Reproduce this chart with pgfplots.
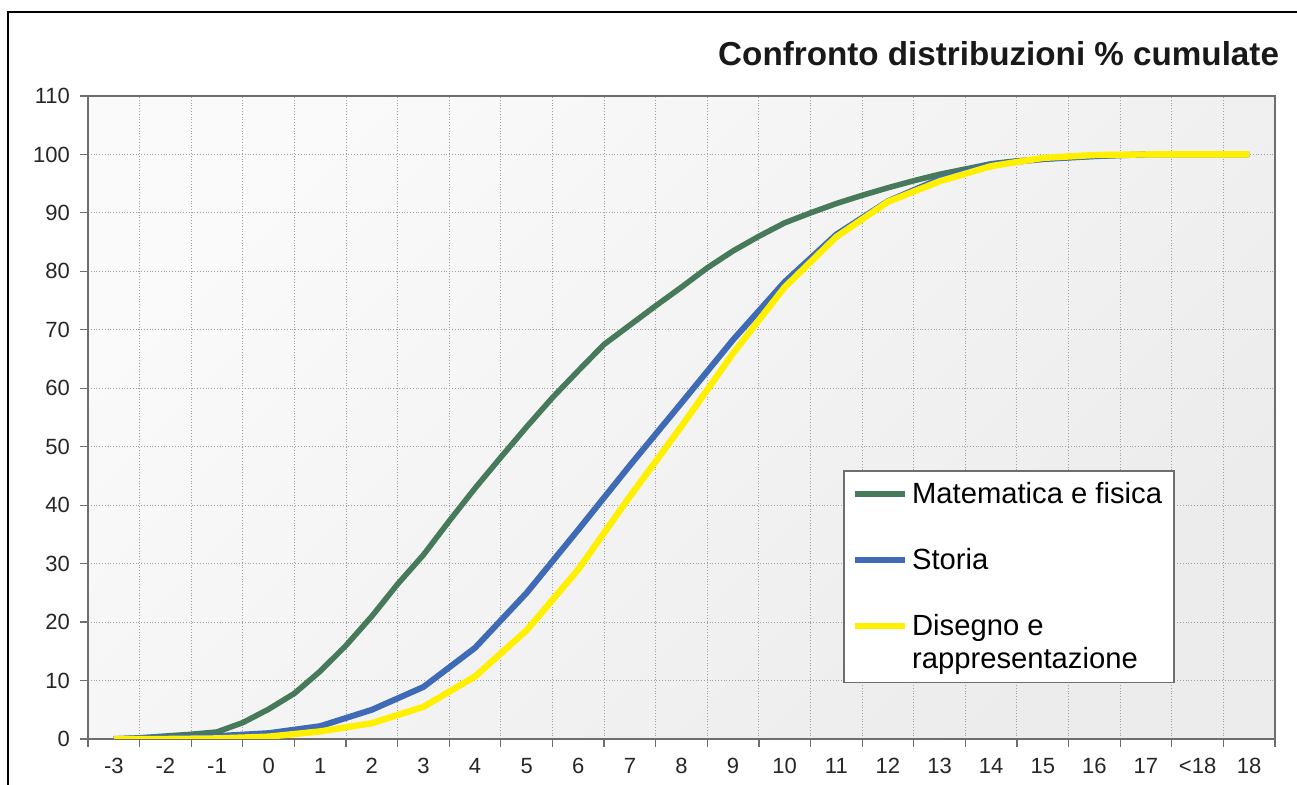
\documentclass[border=0pt]{standalone}
\usepackage{fontspec}
\setmainfont{Liberation Sans}
\usepackage{pgfplots}
\pgfplotsset{compat=1.18}

\definecolor{matgreen}{RGB}{70,122,90}
\definecolor{stoblue}{RGB}{62,106,182}
\definecolor{disyellow}{RGB}{255,240,0}
\definecolor{axgray}{RGB}{110,110,110}

% two-line legend entry: sample sits at the first line, as in the original
\pgfplotsset{raisedline/.style={legend image code/.code={\draw[##1] (0pt,21.1pt) -- (25pt,21.1pt);}}}

\begin{document}
\begin{tikzpicture}
\useasboundingbox (-44pt,-23pt) rectangle (604.5pt,369.5pt);
% outer frame of the original sheet (only left and top edges visible)
\draw[line width=1pt,black] (-40pt,-40pt) -- (-40pt,363.5pt) -- (620pt,363.5pt);
\begin{axis}[
  scale only axis,
  width=593.5pt, height=321.5pt,
  xmin=-0.5, xmax=22.5,
  ymin=0, ymax=110,
  ytick={0,10,...,110},
  xtick={-0.5,0.5,...,22.5},
  xticklabels={},
  extra x ticks={0,1,...,22},
  extra x tick labels={-3,-2,-1,0,1,2,3,4,5,6,7,8,9,10,11,12,13,14,15,16,17,{<18},18},
  extra x tick style={major tick length=0pt, grid=none},
  tick pos=left,
  tick align=outside,
  major tick length=4pt,
  tick style={axgray, line width=0.6pt},
  xmajorgrids=true, ymajorgrids=true,
  major grid style={densely dotted, gray!75, line width=0.5pt},
  axis line style={axgray, line width=0.9pt},
  axis background/.style={top color=gray!4, middle color=gray!38, bottom color=gray!15, shading angle=45},
  tick label style={font=\fontsize{11}{13}\selectfont, text=black!85},
  xticklabel style={yshift=-6pt},
  yticklabel style={xshift=-1.5pt},
  /pgf/number format/assume math mode=true,
  title={Confronto distribuzioni \% cumulate},
  title style={at={(1,1)}, anchor=base east, xshift=5.5pt, yshift=9pt,
    font=\bfseries\fontsize{16.6}{19}\selectfont, text=black!90},
  legend style={
    at={(0.636,0.418)}, anchor=north west,
    draw=axgray, line width=0.8pt, fill=white,
    font=\fontsize{14.6}{16.5}\selectfont,
    row sep=17pt, inner xsep=4pt, inner ysep=3.5pt,
    cells={anchor=base west, align=left},
  },
  legend image code/.code={\draw[#1] (0pt,4.6pt) -- (25pt,4.6pt);},
]
\addplot[matgreen, line width=2.8pt] coordinates {
  (0,0) (0.5,0.2) (1,0.5) (1.5,0.8) (2,1.2) (2.5,2.8) (3,5.1) (3.5,7.8)
  (4,11.6) (4.5,16.0) (5,21.0) (5.5,26.5) (6,31.5) (6.5,37.3) (7,42.9)
  (7.5,48.2) (8,53.4) (8.5,58.4) (9,63.0) (9.5,67.5) (10,70.8) (10.5,74.1)
  (11,77.3) (11.5,80.6) (12,83.5) (12.5,86.0) (13,88.3) (13.5,90.0)
  (14,91.6) (14.5,93.0) (15,94.3) (15.5,95.5) (16,96.6) (16.5,97.5)
  (17,98.4) (17.5,98.9) (18,99.2) (18.5,99.5) (19,99.7) (19.5,99.9)
  (20,100) (20.5,100) (21,100) (21.5,100) (22,100)
};
\addlegendentry{Matematica e fisica}
\addplot[stoblue, line width=3pt] coordinates {
  (0,0) (1,0.2) (2,0.5) (3,1.0) (4,2.2) (5,5.0) (6,8.9) (7,15.6) (8,25.0)
  (9,35.8) (10,46.8) (11,57.5) (12,68.3) (13,78.2) (14,86.3) (15,92.0)
  (16,95.8) (17,98.3) (18,99.2) (19,99.7) (20,100) (21,100) (22,100)
};
\addlegendentry{Storia}
\addplot[disyellow, line width=3.2pt, raisedline] coordinates {
  (0,0) (1,0) (2,0.1) (3,0.4) (4,1.3) (5,2.7) (6,5.5) (7,10.7) (8,18.6)
  (9,29.0) (10,41.5) (11,53.5) (12,66.0) (13,77.3) (14,85.9) (15,91.9)
  (16,95.4) (17,98.0) (18,99.4) (19,99.9) (20,100) (21,100) (22,100)
};
\addlegendentry{Disegno e\\rappresentazione}
\end{axis}
\end{tikzpicture}
\end{document}
